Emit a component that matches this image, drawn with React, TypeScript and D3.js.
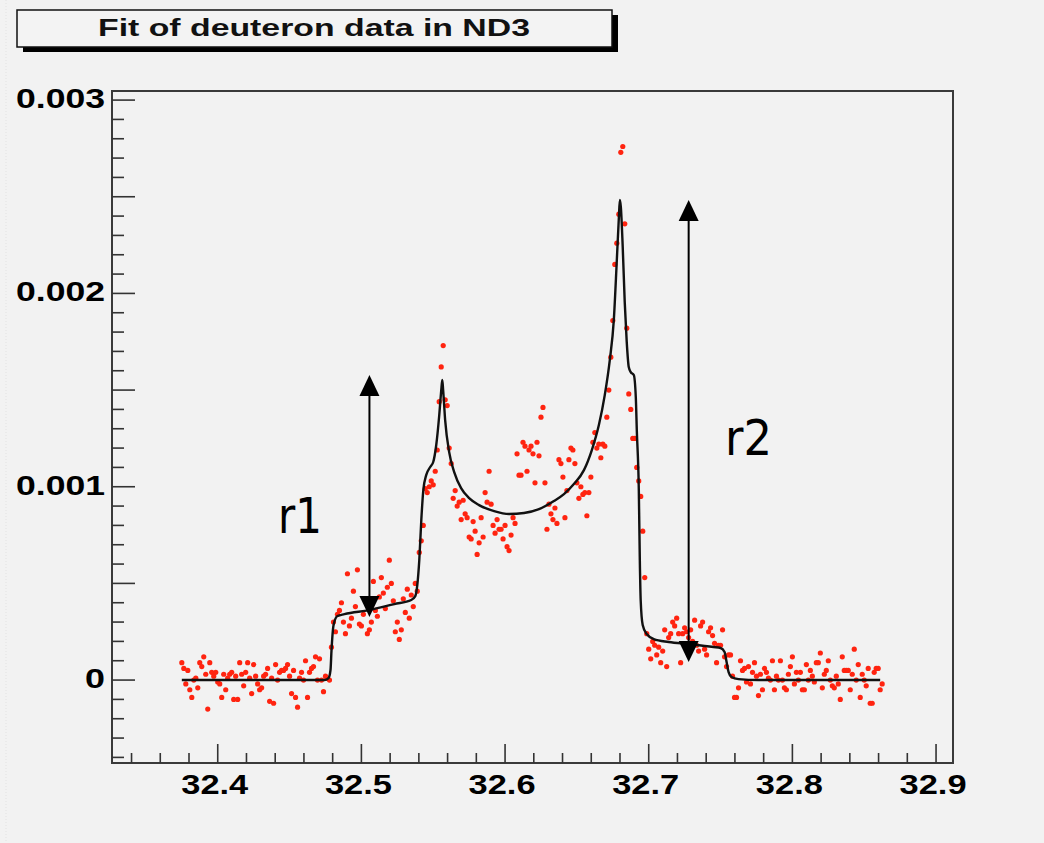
import React from "react";
import * as d3 from "d3";

// ---- data (y in units of 1e-3) ----
const fitX = [32.375, 32.4743, 32.4771, 32.4785, 32.4792, 32.4806, 32.4833, 32.4882, 32.5056, 32.5229, 32.5347, 32.5375, 32.5389, 32.5403, 32.5417, 32.5431, 32.5451, 32.5479, 32.55, 32.5521, 32.5542, 32.5556, 32.5563, 32.5569, 32.5583, 32.5611, 32.5646, 32.5694, 32.575, 32.5819, 32.5924, 32.6028, 32.6132, 32.6236, 32.634, 32.641, 32.6479, 32.6549, 32.6604, 32.6653, 32.6694, 32.6729, 32.6757, 32.6778, 32.6792, 32.6799, 32.6806, 32.6819, 32.6833, 32.6847, 32.6861, 32.6875, 32.6896, 32.691, 32.6917, 32.6931, 32.6938, 32.6944, 32.6958, 32.6986, 32.7035, 32.7139, 32.7278, 32.7451, 32.75, 32.7528, 32.7542, 32.7556, 32.7576, 32.7625, 32.7764, 32.8611];
const fitY = [0, 0, 0.01, 0.052, 0.155, 0.284, 0.331, 0.341, 0.362, 0.393, 0.414, 0.434, 0.491, 0.621, 0.828, 0.983, 1.06, 1.102, 1.128, 1.216, 1.371, 1.5, 1.552, 1.5, 1.345, 1.179, 1.076, 0.993, 0.941, 0.905, 0.874, 0.859, 0.864, 0.884, 0.926, 0.962, 1.014, 1.086, 1.19, 1.319, 1.474, 1.655, 1.862, 2.173, 2.39, 2.483, 2.447, 2.24, 1.955, 1.748, 1.619, 1.593, 1.578, 1.464, 1.293, 0.983, 0.621, 0.414, 0.285, 0.238, 0.212, 0.197, 0.186, 0.171, 0.166, 0.145, 0.093, 0.041, 0.016, 0.005, 0, 0];

const freqStart = 32.375;
const freqStep = 0.0013889;
const dataY = [
  0.09, 0.06, -0.02, 0.05, -0.05, -0.09, 0.00, 0.01, -0.04, 0.09,
  0.07, 0.12, 0.03, -0.15, 0.09, 0.04, 0.02, 0.04, -0.01, -0.02,
  -0.09, 0.03, -0.05, 0.01, 0.03, 0.04, -0.10, 0.02, -0.10, 0.09,
  0.03, -0.03, 0.04, 0.09, 0.01, -0.07, 0.08, 0.02, -0.02, -0.05,
  -0.04, 0.02, 0.03, 0.06, -0.11, 0.01, -0.12, 0.08, 0.00, 0.04,
  0.05, 0.05, 0.06, 0.08, 0.02, -0.07, 0.05, -0.09, -0.14, 0.01,
  0.04, 0.00, 0.10, -0.09, 0.04, 0.06, 0.07, 0.12, 0.00, 0.11,
  0.00, -0.06, 0.02, 0.01, 0.00, 0.17, 0.30, 0.25, 0.34, 0.36,
  0.40, 0.30, 0.24, 0.55, 0.28, 0.32, 0.46, 0.38, 0.57, 0.29,
  0.28, 0.34, 0.42, 0.24, 0.26, 0.30, 0.51, 0.36, 0.33, 0.43,
  0.53, 0.45, 0.37, 0.48, 0.62, 0.50, 0.41, 0.25, 0.30, 0.21,
  0.26, 0.42, 0.35, 0.47, 0.32, 0.44, 0.38, 0.50, 0.46, 0.66,
  0.72, 0.80, 0.99, 0.97, 1.00, 1.03, 1.01, 1.08, 1.19, 1.44,
  1.62, 1.73, 1.45, 1.42, 1.20, 1.12, 0.94, 0.98, 0.90, 0.92,
  0.83, 0.93, 0.86, 0.84, 0.74, 0.73, 0.82, 0.77, 0.65, 0.71,
  0.84, 0.74, 0.97, 0.92, 1.08, 0.91, 0.80, 0.76, 0.83, 0.78,
  0.78, 0.73, 0.80, 0.69, 0.67, 0.75, 0.84, 0.81, 1.17, 1.06,
  1.06, 1.23, 1.21, 1.08, 1.19, 1.21, 1.17, 1.02, 1.23, 1.16,
  1.36, 1.41, 1.02, 0.78, 0.91, 0.86, 0.83, 0.89, 0.81, 1.14,
  1.12, 1.05, 0.84, 0.98, 1.14, 1.20, 1.19, 1.12, 1.02, 0.94,
  1.00, 0.96, 0.97, 0.85, 0.97, 1.05, 1.23, 1.28, 1.20, 1.22,
  1.15, 1.22, 1.21, 1.36, 1.50, 1.67, 1.86, 2.15, 2.26, 2.41,
  2.73, 2.76, 2.36, 1.82, 1.48, 1.40, 1.25, 1.25, 1.10, 1.03,
  0.95, 0.77, 0.53, 0.24, 0.16, 0.11, 0.20, 0.18, 0.13, 0.17,
  0.09, 0.15, 0.26, 0.07, 0.22, 0.24, 0.30, 0.28, 0.32, 0.24,
  0.09, 0.24, 0.27, 0.25, 0.22, 0.26, 0.20, 0.31, 0.18, 0.15,
  0.28, 0.30, 0.16, 0.13, 0.25, 0.27, 0.23, 0.19, 0.09, 0.18,
  0.18, 0.26, 0.12, 0.07, 0.13, 0.13, 0.02, -0.09, -0.09, -0.04,
  0.10, 0.05, 0.06, -0.01, 0.07, -0.02, 0.04, 0.09, 0.02, -0.08,
  0.03, -0.05, 0.06, 0.04, 0.01, 0.00, 0.10, -0.05, 0.02, 0.00,
  0.10, 0.00, -0.04, -0.05, 0.03, 0.07, 0.12, -0.02, 0.04, 0.00,
  0.04, -0.05, -0.05, 0.08, 0.00, 0.05, 0.02, -0.01, 0.09, 0.09,
  0.14, -0.04, 0.03, 0.05, 0.10, 0.00, -0.03, -0.04, 0.02, -0.02,
  -0.10, 0.12, 0.05, 0.05, 0.05, -0.05, 0.03, 0.16, 0.00, 0.08,
  -0.09, 0.03, 0.00, -0.03, 0.06, -0.12, -0.12, 0.04, 0.06, 0.06,
  -0.05, -0.02,
];

const xTickValues = [32.4, 32.5, 32.6, 32.7, 32.8, 32.9];
const xTickLabels = ["32.4", "32.5", "32.6", "32.7", "32.8", "32.9"];
const yTickValues = [0, 1, 2, 3];
const yTickLabels = ["0", "0.001", "0.002", "0.003"];

const arrowNames = ["r1", "r2"];
const arrowX = [32.5056, 32.7278];
const arrowTop = [1.578, 2.483];
const arrowBottom = [0.326, 0.093];

const title = "Fit of deuteron data in ND3";

export default function App() {
  const W = 1044, H = 843;
  const left = 112, right = 953, top = 91, bottom = 763;
  const x = d3.scaleLinear().domain([32.3264, 32.9118]).range([left, right]);
  const y = d3.scaleLinear().domain([-0.429, 3.047]).range([bottom, top]);

  const line = d3.line<number>()
    .x((_, i) => x(fitX[i]))
    .y((d) => y(d))
    .curve(d3.curveMonotoneX);

  const xMinor = d3.range(32.34, 32.9001, 0.02);
  const yMinor = d3.range(-0.4, 3.0001, 0.1);
  const font = "'Liberation Sans', Arial, Helvetica, sans-serif";

  const arrowHead = (cx: number, tipY: number, dir: number) => {
    const bw = 10, bh = 21;
    return `M${cx},${tipY} L${cx - bw},${tipY + dir * bh} L${cx + bw},${tipY + dir * bh} Z`;
  };

  return (
    <svg width={W} height={H} style={{ position: "absolute", left: 0, top: 0, background: "#f2f2f2" }}>
      <rect x={0} y={0} width={W} height={H} fill="#f2f2f2" />
      <line x1={6} y1={0} x2={6} y2={H} stroke="#e2e2e2" strokeDasharray="1,2" />

      {/* title box */}
      <rect x={23} y={15} width={595} height={37} fill="#000" />
      <rect x={17} y={10} width={595} height={37} fill="#f3f3f3" stroke="#111" strokeWidth={1.5} />
      <text x={314} y={36} textAnchor="middle" fontFamily={font} fontWeight="bold" fontSize={24}
        textLength={432} lengthAdjust="spacingAndGlyphs" fill="#111">{title}</text>

      {/* frame */}
      <rect x={left} y={top} width={right - left} height={bottom - top} fill="none" stroke="#3a3a3a" strokeWidth={2} />

      {/* x ticks */}
      {xMinor.map((v, i) => {
        const major = Math.abs(Math.round(v * 10) - v * 10) < 1e-6;
        return <line key={"xt" + i} x1={x(v)} x2={x(v)} y1={bottom} y2={bottom - (major ? 19 : 10)} stroke="#333" strokeWidth={1.6} />;
      })}
      {/* y ticks */}
      {yMinor.map((v, i) => {
        const major = Math.abs(Math.round(v * 2) - v * 2) < 1e-6;
        return <line key={"yt" + i} x1={left} x2={left + (major ? 23 : 12)} y1={y(v)} y2={y(v)} stroke="#333" strokeWidth={1.6} />;
      })}

      {/* x labels */}
      {xTickValues.map((v, i) => (
        <text key={"xl" + i} x={x(v) - 3} y={794} textAnchor="middle" fontFamily={font} fontWeight="bold"
          fontSize={28} textLength={67} lengthAdjust="spacingAndGlyphs" fill="#000">{xTickLabels[i]}</text>
      ))}
      {/* y labels */}
      {yTickValues.map((v, i) => {
        const len = yTickLabels[i].length === 1 ? 20 : 89;
        return (
          <text key={"yl" + i} x={105 - len} y={y(v) + 8} fontFamily={font} fontWeight="bold"
            fontSize={27} textLength={len} lengthAdjust="spacingAndGlyphs" fill="#000">{yTickLabels[i]}</text>
        );
      })}

      {/* data points */}
      {dataY.map((v, i) => (
        <circle key={"p" + i} cx={x(freqStart + i * freqStep)} cy={y(v)} r={2.6} fill="#ff2410" />
      ))}

      {/* fit curve */}
      <path d={line(fitY) || ""} fill="none" stroke="#111" strokeWidth={2.4} strokeLinejoin="round" />

      {/* arrows */}
      {arrowNames.map((n, i) => {
        const cx = x(arrowX[i]);
        const t = y(arrowTop[i]);
        const b = y(arrowBottom[i]);
        return (
          <g key={"a" + i}>
            <line x1={cx} x2={cx} y1={t + 10} y2={b - 10} stroke="#000" strokeWidth={2} />
            <path d={arrowHead(cx, t, 1)} fill="#000" />
            <path d={arrowHead(cx, b, -1)} fill="#000" />
          </g>
        );
      })}
      <text x={278} y={533} fontFamily="'DejaVu Sans', Verdana, sans-serif" fontSize={50} textLength={44}
        lengthAdjust="spacingAndGlyphs" fill="#000">{arrowNames[0]}</text>
      <text x={725} y={455} fontFamily="'DejaVu Sans', Verdana, sans-serif" fontSize={50} textLength={47}
        lengthAdjust="spacingAndGlyphs" fill="#000">{arrowNames[1]}</text>
    </svg>
  );
}
